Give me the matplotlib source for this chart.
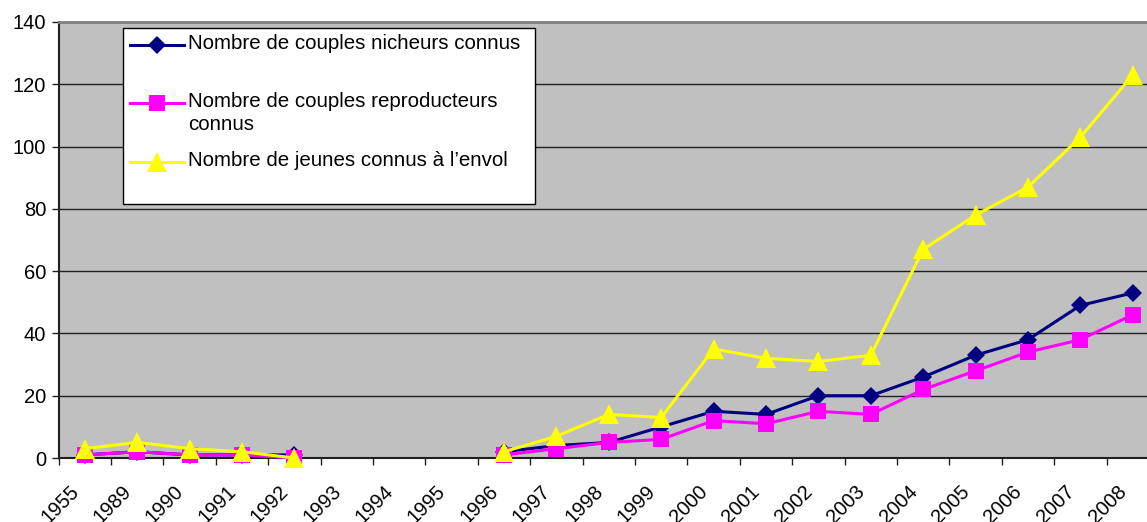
import matplotlib
matplotlib.use("Agg")
import matplotlib.pyplot as plt
import numpy as np
from matplotlib.lines import Line2D
from matplotlib.patches import Rectangle
from matplotlib.transforms import ScaledTranslation

plt.rcParams['font.family'] = ['Liberation Sans', 'DejaVu Sans']

annees = ['1955', '1989', '1990', '1991', '1992', '1993', '1994', '1995', '1996', '1997',
          '1998', '1999', '2000', '2001', '2002', '2003', '2004', '2005', '2006', '2007', '2008']
nan = np.nan
nicheurs = [1, 2, 1, 1, 1, nan, nan, nan, 2, 4, 5, 10, 15, 14, 20, 20, 26, 33, 38, 49, 53]
reproducteurs = [1, 2, 1, 1, 0, nan, nan, nan, 1, 3, 5, 6, 12, 11, 15, 14, 22, 28, 34, 38, 46]
jeunes = [3, 5, 3, 2, 0, nan, nan, nan, 2, 7, 14, 13, 35, 32, 31, 33, 67, 78, 87, 103, 123]

labels = ['Nombre de couples nicheurs connus',
          'Nombre de couples reproducteurs\nconnus',
          'Nombre de jeunes connus à l\u2019envol']

W, H = 1147, 522
fig = plt.figure(figsize=(W/100, H/100), dpi=100)
# plot area goes a little past the right edge of the picture, like the original
ax = fig.add_axes([58.7/W, 64/H, (1159-58.7)/W, 436/H])
ax.set_facecolor('#C0C0C0')

x = np.arange(len(annees))
styles = [
    dict(color='#000080', marker='D', markersize=9.5, lw=2.2),
    dict(color='#FF00FF', marker='s', markersize=11, lw=2.2),
    dict(color='#FFFF00', marker='^', markersize=14, lw=2.2),
]
for serie, st in zip([nicheurs, reproducteurs, jeunes], styles):
    ax.plot(x, serie, color=st['color'], lw=st['lw'], marker=st['marker'],
            markersize=st['markersize'], markeredgewidth=0, clip_on=False, zorder=3)

ax.set_xlim(-0.5, len(annees) - 0.5)
ax.set_ylim(0, 140)
ax.set_yticks(np.arange(0, 141, 20))
ax.yaxis.grid(True, color='#202020', lw=1)
ax.set_axisbelow(True)

# labels centred on categories, ticks on the boundaries
ax.set_xticks(x)
ax.set_xticklabels(annees, rotation=45, ha='right', va='center', rotation_mode='anchor')
ax.set_xticks(np.arange(-0.5, len(annees)), minor=True)
ax.tick_params(axis='x', which='major', length=0, pad=22, labelsize=14.5)
ax.tick_params(axis='x', which='minor', length=5, width=1, color='#202020', direction='out')
ax.tick_params(axis='y', length=5, width=1, color='#202020', pad=4, labelsize=14.5)
for lab in ax.get_xticklabels():
    lab.set_transform(lab.get_transform() + ScaledTranslation(-0.09, 0, fig.dpi_scale_trans))

ax.spines['left'].set_color('#202020')
ax.spines['left'].set_linewidth(1.5)
ax.spines['bottom'].set_color('#202020')
ax.spines['bottom'].set_linewidth(1.5)
ax.spines['top'].set_color('#808080')
ax.spines['top'].set_linewidth(2)
ax.spines['right'].set_visible(False)

# legend box drawn by hand (handle sits on the first line of a two-line label)
def px(xp, yp):
    return xp / W, 1 - yp / H

x0, y0 = px(123, 204)
x1, y1 = px(535, 28)
fig.add_artist(Rectangle((x0, y0), x1 - x0, y1 - y0, transform=fig.transFigure,
                         facecolor='white', edgecolor='black', lw=1, zorder=5))
ys = [45, 103, 162]
for lbl, st, yp in zip(labels, styles, ys):
    (la, yy), (lb, _) = px(130, yp), px(184, yp)
    fig.add_artist(Line2D([la, lb], [yy, yy], transform=fig.transFigure,
                          color=st['color'], lw=st['lw'], zorder=6))
    fig.add_artist(Line2D([(la + lb) / 2], [yy], transform=fig.transFigure,
                          color=st['color'], marker=st['marker'], markersize=st['markersize'],
                          markeredgewidth=0, lw=0, zorder=7))
    tx, ty = px(188, yp - 11)
    fig.text(tx, ty, lbl, fontsize=14.8, ha='left', va='top', linespacing=1.25, zorder=7)

fig.savefig('out.png', dpi=100)
